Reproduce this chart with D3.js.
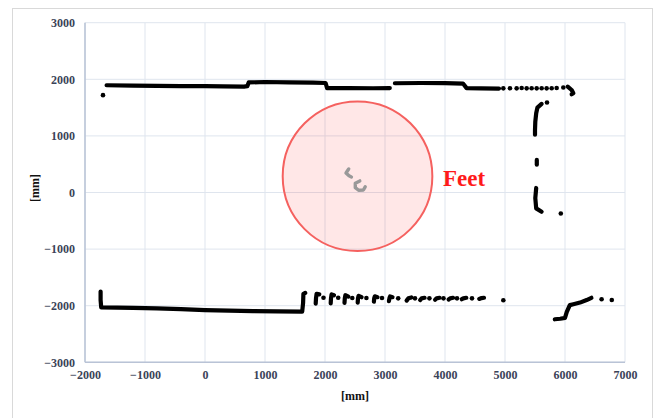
<!DOCTYPE html>
<html>
<head>
<meta charset="utf-8">
<script src="https://cdn.jsdelivr.net/npm/d3@7"></script>
<style>
  body { margin: 0; background: #fff; }
  svg { display: block; }
</style>
</head>
<body>
<div class="chart"></div>
<script>
var width = 661;
var height = 418;

/// Data (mm)
var xTicks = [-2000, -1000, 0, 1000, 2000, 3000, 4000, 5000, 6000, 7000];
var yTicks = [-3000, -2000, -1000, 0, 1000, 2000, 3000];

// continuous wall segments of the scan
var topWallA = [[-1640,1895],[-1200,1890],[-800,1885],[-400,1880],[0,1878],[300,1875],[650,1872],[705,1880],[730,1945],
  [1000,1952],[1400,1946],[1800,1940],[2010,1935],[2035,1845],[2400,1845],[2800,1842],[3080,1845]];
var topWallB = [[3165,1930],[3600,1935],[4000,1932],[4300,1925],[4360,1845],[4600,1838],[4900,1836]];
var topHook = [[6045,1869],[6111,1811],[6139,1753],[6111,1735]];
var rightUpper = [[5610,1565],[5540,1500],[5520,1400],[5505,1250],[5500,1100],[5500,1020]];
var rightMid = [[5530,575],[5530,490]];
var rightLower = [[5520,80],[5505,-100],[5520,-280],[5610,-340]];
var bottomLeft = [[-1740,-1750],[-1740,-1900],[-1730,-2030],[-1200,-2040],[-800,-2048],[-400,-2060],[0,-2078],
  [400,-2088],[800,-2096],[1200,-2100],[1620,-2105],[1635,-1950],[1640,-1790],[1670,-1775]];
var bottomRight = [[5830,-2240],[5920,-2230],[6000,-2215],[6030,-2110],[6080,-1990],[6140,-1975],[6250,-1945],
  [6360,-1900],[6440,-1860]];
var bottomClusters = [
  [[1845,-1965],[1850,-1870],[1860,-1790],[1905,-1800]],
  [[2095,-1960],[2100,-1870],[2110,-1800],[2150,-1815]],
  [[2325,-1950],[2330,-1870],[2340,-1815],[2390,-1840]],
  [[2545,-1945],[2550,-1870],[2560,-1825],[2610,-1850]],
  [[2815,-1930],[2820,-1870],[2830,-1835],[2875,-1850]],
  [[3065,-1920],[3075,-1865],[3085,-1835],[3125,-1850]],
  [[3360,-1910],[3390,-1870],[3440,-1855]],
  [[3585,-1900],[3610,-1870],[3660,-1860]],
  [[3835,-1895],[3860,-1870],[3910,-1860]],
  [[4060,-1890],[4085,-1870],[4135,-1860]],
  [[4280,-1885],[4305,-1870],[4355,-1860]],
  [[4570,-1880],[4610,-1865],[4650,-1860]]
];
// single scan points
var scanDots = [[-1700,1720],[4972,1840],[5083,1842],[5194,1840],[5278,1845],[5361,1840],[5444,1842],[5528,1840],
  [5611,1843],[5694,1840],[5778,1842],[5861,1845],[5972,1855],[5700,1590],[5930,-370],
  [1975,-1860],[2220,-1860],[2455,-1865],[2690,-1865],[2950,-1865],[3220,-1870],[3500,-1870],[3740,-1870],
  [3975,-1870],[4200,-1870],[4450,-1870],[4972,-1905],[6610,-1885],[6780,-1900]];
var feetLeft = [[2395,415],[2350,345],[2400,295],[2440,275]];
var feetRight = [[2580,205],[2505,165],[2505,85],[2560,40],[2640,44],[2670,100]];
var feetCircle = {cx: 2542, cy: 288, r: 1247};

/// Scales
var x = d3.scaleLinear().domain([-2000, 7000]).range([85, 625]);
var y = d3.scaleLinear().domain([-3000, 3000]).range([362.3, 22.7]);

var serif = '"Liberation Serif", "Times New Roman", Times, serif';

var canvas = d3.select('.chart')
  .append('svg')
  .attr('width', width)
  .attr('height', height);

// chart frame
canvas.append('rect')
  .attr('x', 12.5).attr('y', 8.5)
  .attr('width', 640).attr('height', 430)
  .attr('fill', '#fff')
  .attr('stroke', '#d9d9d9');

/// Grid
canvas.append('g').selectAll('line.vgrid')
  .data(xTicks)
  .enter().append('line')
  .attr('x1', function(d){ return x(d); })
  .attr('x2', function(d){ return x(d); })
  .attr('y1', y(-3000)).attr('y2', y(3000))
  .attr('stroke', '#dfe5ee').attr('stroke-width', 1);

canvas.append('g').selectAll('line.hgrid')
  .data(yTicks)
  .enter().append('line')
  .attr('y1', function(d){ return y(d); })
  .attr('y2', function(d){ return y(d); })
  .attr('x1', x(-2000)).attr('x2', x(7000))
  .attr('stroke', '#dfe5ee').attr('stroke-width', 1);

// axis lines
canvas.append('line')
  .attr('x1', x(-2000)).attr('x2', x(-2000))
  .attr('y1', y(3000)).attr('y2', y(-3000))
  .attr('stroke', '#b9c3d6').attr('stroke-width', 1.5);
canvas.append('line')
  .attr('x1', x(-2000)).attr('x2', x(7000))
  .attr('y1', y(-3000)).attr('y2', y(-3000))
  .attr('stroke', '#b9c3d6').attr('stroke-width', 1.5);

/// Axes (labels only)
var xAxis = canvas.append('g')
  .attr('transform', 'translate(0,' + y(-3000) + ')')
  .call(d3.axisBottom(x).tickValues(xTicks).tickSize(0).tickPadding(8).tickFormat(d3.format('d')));
var yAxis = canvas.append('g')
  .attr('transform', 'translate(' + x(-2000) + ',0)')
  .call(d3.axisLeft(y).tickValues(yTicks).tickSize(0).tickPadding(10).tickFormat(d3.format('d')));

[xAxis, yAxis].forEach(function(a){
  a.attr('font-family', null).attr('font-size', null);
  a.select('.domain').remove();
  a.selectAll('text')
    .style('font-family', serif)
    .style('font-weight', 'bold')
    .style('font-size', '12px')
    .attr('fill', '#3b4358');
});

canvas.append('text')
  .attr('x', (x(-2000) + x(7000)) / 2)
  .attr('y', 400)
  .attr('text-anchor', 'middle')
  .style('font-family', serif)
  .style('font-weight', 'bold')
  .style('font-size', '12px')
  .attr('fill', '#111')
  .text('[mm]');

canvas.append('text')
  .attr('transform', 'translate(39,188) rotate(-90)')
  .attr('text-anchor', 'middle')
  .style('font-family', serif)
  .style('font-weight', 'bold')
  .style('font-size', '12px')
  .attr('fill', '#111')
  .text('[mm]');

/// Feet highlight
canvas.append('circle')
  .attr('cx', x(feetCircle.cx))
  .attr('cy', y(feetCircle.cy))
  .attr('r', x(feetCircle.r) - x(0))
  .attr('fill', 'rgba(255,40,40,0.11)')
  .attr('stroke', '#f5615f')
  .attr('stroke-width', 2);

canvas.append('text')
  .attr('x', 443)
  .attr('y', 186)
  .style('font-family', serif)
  .style('font-weight', 'bold')
  .style('font-size', '23px')
  .attr('fill', '#ff1a1a')
  .text('Feet');

/// Scan points
var line = d3.line()
  .x(function(d){ return x(d[0]); })
  .y(function(d){ return y(d[1]); });

var walls = [topWallA, topWallB, topHook, rightUpper, rightMid, rightLower, bottomLeft, bottomRight].concat(bottomClusters);

canvas.append('g').selectAll('path.wall')
  .data(walls)
  .enter().append('path')
  .attr('d', line)
  .attr('fill', 'none')
  .attr('stroke', '#000')
  .attr('stroke-width', 4.2)
  .attr('stroke-linecap', 'round')
  .attr('stroke-linejoin', 'round');

canvas.append('g').selectAll('circle.dot')
  .data(scanDots)
  .enter().append('circle')
  .attr('cx', function(d){ return x(d[0]); })
  .attr('cy', function(d){ return y(d[1]); })
  .attr('r', 2.3)
  .attr('fill', '#000');

canvas.append('g').selectAll('path.feet')
  .data([feetLeft, feetRight])
  .enter().append('path')
  .attr('d', line)
  .attr('fill', 'none')
  .attr('stroke', '#999')
  .attr('stroke-width', 3.4)
  .attr('stroke-linecap', 'round')
  .attr('stroke-linejoin', 'round');
</script>
</body>
</html>
